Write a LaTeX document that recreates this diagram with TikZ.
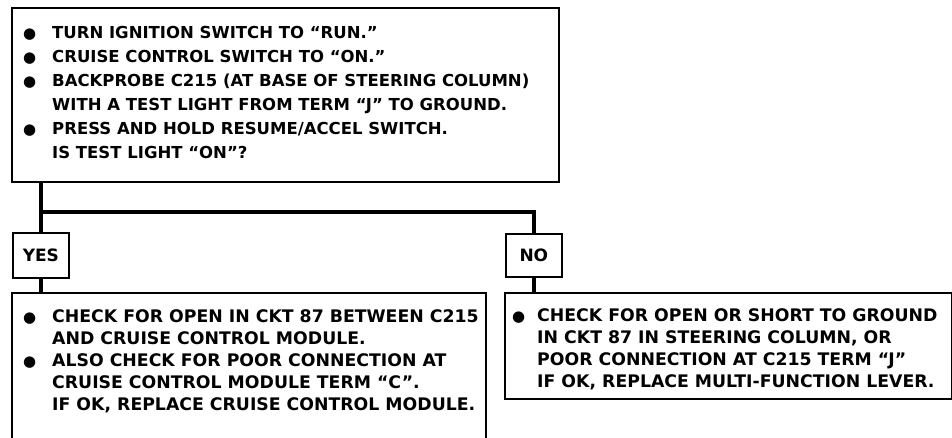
\documentclass[tikz,border=0pt]{standalone}
\usepackage{fontspec}
\setmainfont{DejaVu Sans}
\usetikzlibrary{positioning}

\newcommand{\bul}{{\fontsize{15}{15}\selectfont ●}}
\newcommand{\stepsrows}[2]{\begin{tabular}{@{}p{#1}@{}l@{}}#2\end{tabular}}

\tikzset{
  frame/.style={draw, line width=1.7pt, anchor=north west, inner sep=0pt},
  txt/.style={inner sep=0pt, anchor=north west, align=left},
  toptxt/.style={txt, font=\fontsize{16.5}{24}\selectfont\bfseries},
  lowtxt/.style={txt, font=\fontsize{17.3}{22}\selectfont\bfseries},
  answer/.style={frame, font=\fontsize{17}{22}\selectfont\bfseries},
  link/.style={line width=4.5pt},
}

\begin{document}
\begin{tikzpicture}[x=1pt,y=-1pt]
  \useasboundingbox (0,0) rectangle (952,437);

  % boxes
  \node[frame, minimum width=547pt, minimum height=174pt] (top) at (11,7) {};
  \node[answer, minimum width=56pt, minimum height=45pt] (yes) at (12,232) {YES};
  \node[answer, minimum width=56pt, minimum height=43pt] (no) at (505,233) {NO};
  \node[frame, minimum width=474pt, minimum height=200pt] (lbox) at (11,292) {};
  \node[frame, minimum width=447pt, minimum height=106pt] (rbox) at (504,292) {};

  % texts
  \node[toptxt, below right=14.6pt and 12pt of top.north west] (toptext) {\stepsrows{29pt}{
    \bul & TURN IGNITION SWITCH TO ``RUN.''\\
    \bul & CRUISE CONTROL SWITCH TO ``ON.''\\
    \bul & BACKPROBE C215 (AT BASE OF STEERING COLUMN)\\
         & WITH A TEST LIGHT FROM TERM ``J'' TO GROUND.\\
    \bul & PRESS AND HOLD RESUME/ACCEL SWITCH.\\
         & IS TEST LIGHT ``ON''?}};
  \node[lowtxt, below right=15pt and 12pt of lbox.north west] (ltext) {\stepsrows{29pt}{
    \bul & CHECK FOR OPEN IN CKT 87 BETWEEN C215\\
         & AND CRUISE CONTROL MODULE.\\
    \bul & ALSO CHECK FOR POOR CONNECTION AT\\
         & CRUISE CONTROL MODULE TERM ``C''.\\
         & IF OK, REPLACE CRUISE CONTROL MODULE.}};
  \node[lowtxt, below right=14pt and 8pt of rbox.north west] (rtext) {\stepsrows{25pt}{
    \bul & CHECK FOR OPEN OR SHORT TO GROUND\\
         & IN CKT 87 IN STEERING COLUMN, OR\\
         & POOR CONNECTION AT C215 TERM ``J''\\
         & IF OK, REPLACE MULTI-FUNCTION LEVER.}};

  % connectors
  \coordinate (fork) at (40,212);
  \draw[link] (top.south -| yes.north) -- (yes.north);
  \draw[link] (fork) -| (no.north);
  \draw[link] (yes.south) -- (yes.south |- lbox.north);
  \draw[link] (no.south) -- (no.south |- rbox.north);
\end{tikzpicture}
\end{document}
